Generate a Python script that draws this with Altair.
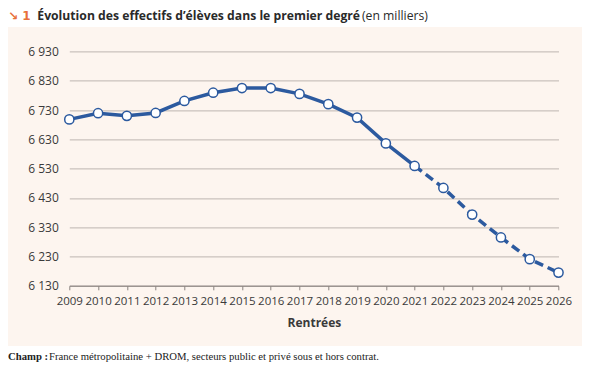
import altair as alt
import pandas as pd

years = list(range(2009, 2027))
values = [6698, 6719, 6710, 6720, 6761, 6789, 6805, 6805, 6785, 6750, 6704,
          6616, 6539, 6464, 6373, 6295, 6221, 6175]
last_observed = 2021
y_ticks = [6130, 6230, 6330, 6430, 6530, 6630, 6730, 6830, 6930]

title_num = "\u2198 1"
title_bold = "Évolution des effectifs d\u2019élèves dans le premier degré"
title_unit = "(en milliers)"
x_title = "Rentrées"
footer_bold = "Champ :"
footer_text = "France métropolitaine + DROM, secteurs public et privé sous et hors contrat."

BLUE = "#2c5a9f"
PANEL = "#fdf5ef"
GRID = "#bdb6b0"
TXT = "#3a3a3a"

df = pd.DataFrame({"year": years, "value": values})
solid = df[df.year <= last_observed]
dashed = df[df.year >= last_observed]

W, H = 489.2, 234.4
PL, PT = 61.3, 43.4
TOTAL_W, TOTAL_H = 574, 356

xs = alt.X("year:Q", scale=alt.Scale(domain=[2009, 2026], nice=False, zero=False),
           axis=alt.Axis(values=years, format="d", title=x_title, grid=False,
                         domain=True, domainColor="#8a8480", ticks=True, tickColor="#8a8480",
                         tickSize=4, labelPadding=6, labelFontSize=11.5, labelColor=TXT,
                         labelFont="Open Sans", titleFont="Open Sans", titleFontSize=12,
                         titleFontWeight="bold", titleColor=TXT, titlePadding=10,
                         labelFlush=False))
ys = alt.Y("value:Q", scale=alt.Scale(domain=[6130, 6930], nice=False, zero=False),
           axis=alt.Axis(values=y_ticks, title=None, grid=True, gridColor=GRID, gridWidth=1,
                         domain=False, ticks=False, labelPadding=11, labelFontSize=12,
                         labelColor=TXT, labelFont="Open Sans",
                         labelExpr="replace(format(datum.value, ','), ',', ' ')"))

one = pd.DataFrame({"k": [0]})

# white bands above and below the tinted panel (background is the panel colour)
band_top = alt.Chart(one).mark_rect(color="white").encode(
    x=alt.value(-PL), x2=alt.value(TOTAL_W - PL), y=alt.value(-PT), y2=alt.value(19 - PT))
band_bot = alt.Chart(one).mark_rect(color="white").encode(
    x=alt.value(-PL), x2=alt.value(TOTAL_W - PL), y=alt.value(338 - PT), y2=alt.value(TOTAL_H - PT))

line_solid = alt.Chart(solid).mark_line(color=BLUE, strokeWidth=3.5).encode(x=xs, y=ys)
line_dash = alt.Chart(dashed).mark_line(color=BLUE, strokeWidth=3.5, strokeDash=[9, 5]).encode(x=xs, y=ys)
pts = alt.Chart(df).mark_point(shape="circle", filled=True, fill="white", stroke=BLUE,
                               strokeWidth=1.5, size=85, opacity=1).encode(x=xs, y=ys)

def txt(s, x, y, **kw):
    return alt.Chart(one).mark_text(text=s, align="left", baseline="alphabetic", **kw).encode(
        x=alt.value(x), y=alt.value(y))

tb = 11.5 - PT
t1 = txt(title_num, 0 - PL, tb, font="DejaVu Sans", fontSize=12, fontWeight="bold", color="#e8703a")
t2 = txt(title_bold, 29.3 - PL, tb, font="Open Sans", fontSize=12.2, fontWeight="bold", color="#2a2a2a")
t3 = txt(title_unit, 354 - PL, tb, font="Open Sans", fontSize=12.2, color="#2a2a2a")

fb = 352 - PT
f1 = txt(footer_bold, 0 - PL, fb, font="Liberation Serif", fontSize=10.7, fontWeight="bold", color="#222")
f2 = txt(footer_text, 41 - PL, fb, font="Liberation Serif", fontSize=10.7, color="#222")

chart = alt.layer(band_top, band_bot, line_solid, line_dash, pts, t1, t2, t3, f1, f2).properties(
    width=W, height=H,
    autosize=alt.AutoSizeParams(type="none"),
    padding={"left": PL, "top": PT, "right": TOTAL_W - PL - W, "bottom": TOTAL_H - PT - H},
    background=PANEL,
).configure_view(stroke=None)

chart.save("out.html", embed_options={"renderer": "svg", "actions": False})
